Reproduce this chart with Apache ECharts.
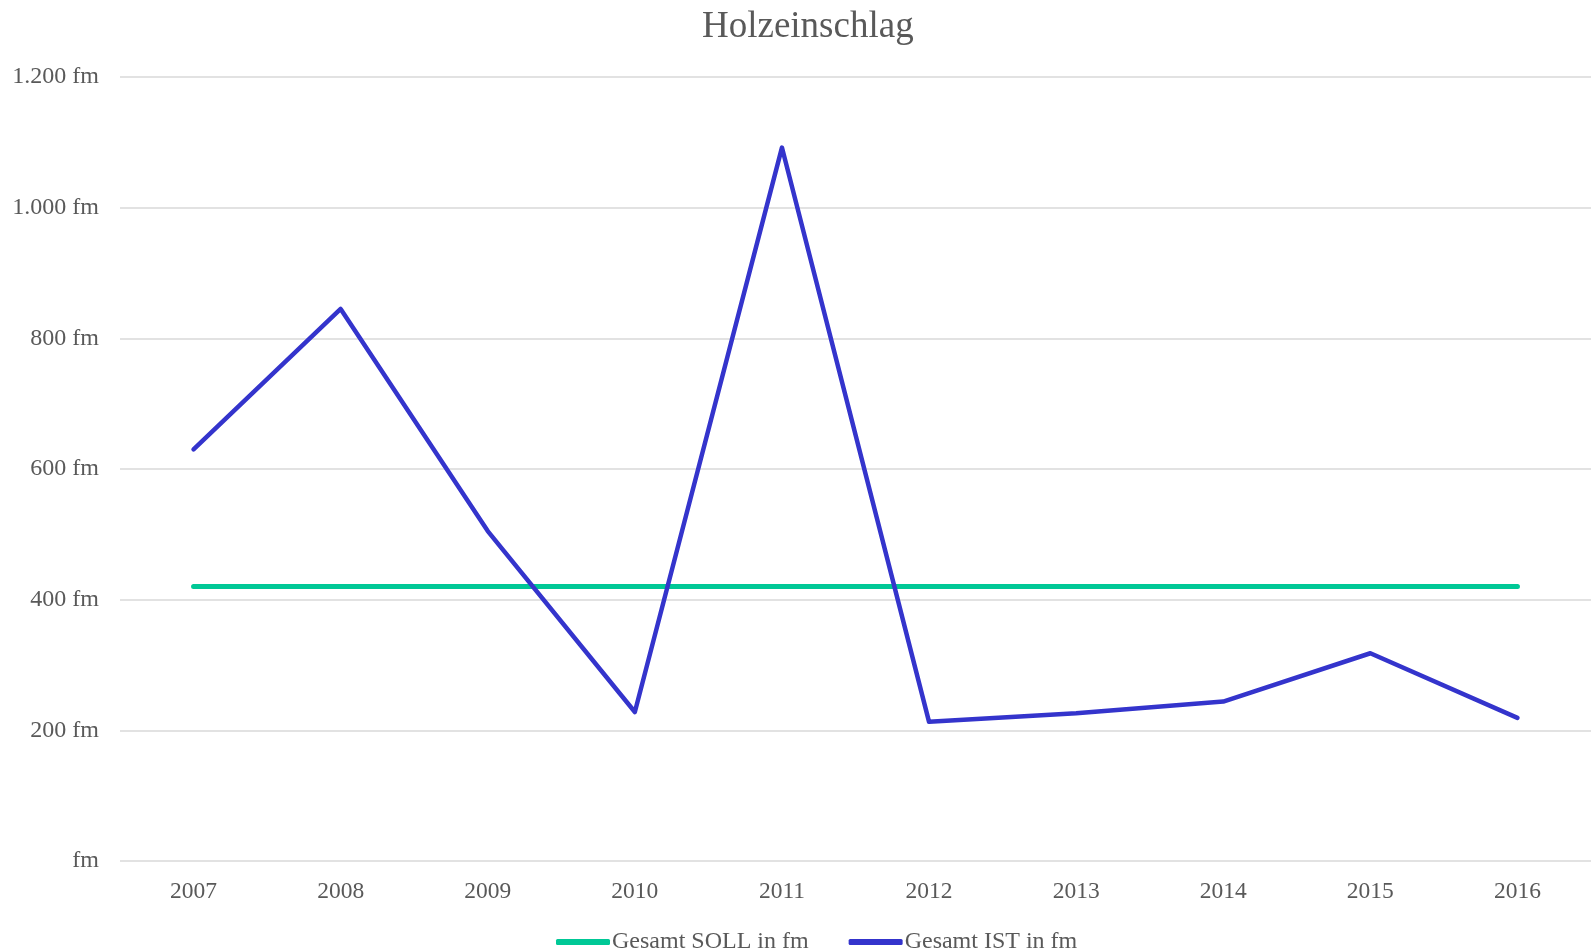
<!DOCTYPE html>
<html>
<head>
<meta charset="utf-8">
<title>Holzeinschlag</title>
<script src="https://cdn.jsdelivr.net/npm/echarts@6/dist/echarts.min.js"></script>
<style>
  html, body { margin: 0; padding: 0; background: #fff; }
  #chart { width: 1591px; height: 951px; }
</style>
</head>
<body>
<div id="chart"></div>
<script>
const years = ["2007", "2008", "2009", "2010", "2011", "2012", "2013", "2014", "2015", "2016"];
const sollValues = [420, 420, 420, 420, 420, 420, 420, 420, 420, 420];
const istValues = [630, 845, 505, 228, 1092, 213, 226, 244, 318, 219];
const seriesNames = ["Gesamt SOLL in fm", "Gesamt IST in fm"];

const font = "'Liberation Serif', 'Times New Roman', serif";
const textColor = "#595959";

// 1200 -> "1.200 fm", 0 -> "fm"
function fmt(v) {
  if (v === 0) return "fm";
  return String(v).replace(/\B(?=(\d{3})+(?!\d))/g, ".") + " fm";
}

let option = {
  backgroundColor: "#fff",
  animation: false,
  title: {
    text: "Holzeinschlag",
    left: 697,
    top: 4,
    textStyle: { fontFamily: font, fontSize: 37, fontWeight: "normal", color: textColor }
  },
  legend: {
    bottom: -8,
    left: 551,
    itemWidth: 54,
    itemHeight: 6,
    itemGap: 40,
    textStyle: { fontFamily: font, fontSize: 24, color: textColor, padding: [0, 0, 0, -3] },
    data: [
      { name: seriesNames[0], icon: "roundRect" },
      { name: seriesNames[1], icon: "roundRect" }
    ]
  },
  grid: {
    left: 120,
    right: -2,
    top: 77,
    bottom: 90
  },
  xAxis: {
    type: "category",
    boundaryGap: true,
    data: years,
    axisLine: { show: false },
    axisTick: { show: false },
    axisLabel: { fontFamily: font, fontSize: 23.5, color: textColor, margin: 19 }
  },
  yAxis: {
    type: "value",
    min: 0,
    max: 1200,
    interval: 200,
    axisLine: { show: false },
    axisTick: { show: false },
    splitLine: { lineStyle: { color: "#d9d9d9", width: 1.5 } },
    axisLabel: { fontFamily: font, fontSize: 24, color: textColor, margin: 21, formatter: fmt }
  },
  series: [
    {
      name: seriesNames[0],
      type: "line",
      data: sollValues,
      symbol: "none",
      lineStyle: { color: "#00c896", width: 5, cap: "round" },
      itemStyle: { color: "#00c896" }
    },
    {
      name: seriesNames[1],
      type: "line",
      data: istValues,
      symbol: "none",
      lineStyle: { color: "#3434cc", width: 4.5, cap: "round", join: "round" },
      itemStyle: { color: "#3434cc" }
    }
  ]
};

let chart = echarts.init(document.getElementById("chart"));
chart.setOption(option);
</script>
</body>
</html>
